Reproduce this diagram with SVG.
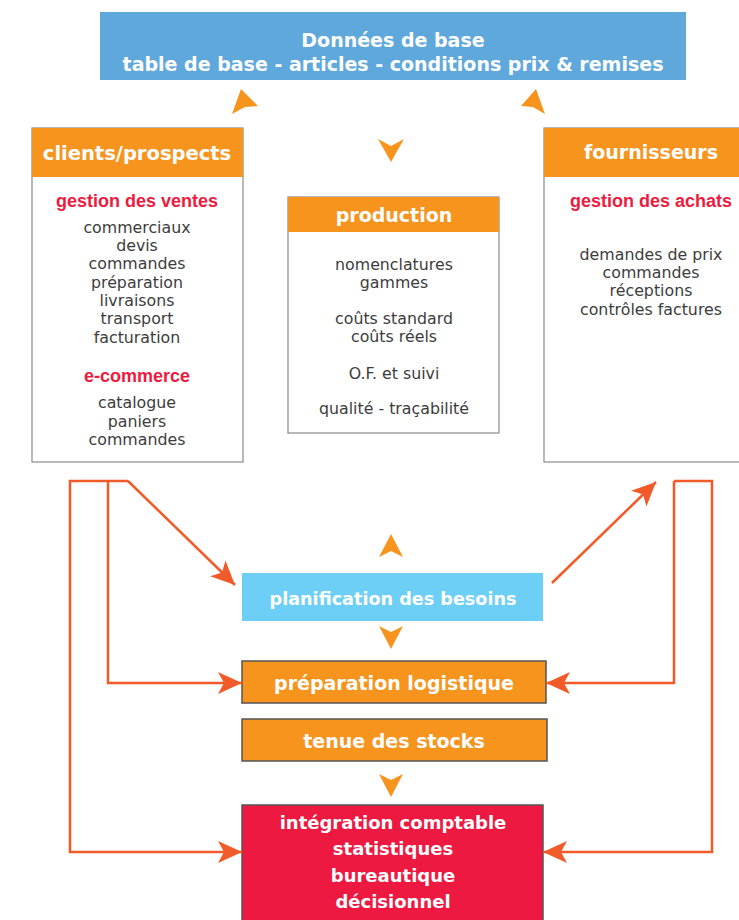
<svg xmlns="http://www.w3.org/2000/svg" width="739" height="920" viewBox="0 0 739 920">
<style>
.hdr{font-family:"DejaVu Sans",Verdana,sans-serif;font-weight:bold;fill:#ffffff;text-anchor:middle}
.red{font-family:"Liberation Sans",Arial,sans-serif;font-weight:bold;font-size:18px;fill:#ED1C3F;text-anchor:middle}
.body{font-family:"DejaVu Sans",Verdana,sans-serif;font-size:15.8px;fill:#3c3c3c;text-anchor:middle}
.panel{fill:#ffffff;stroke:#8a8a8a;stroke-width:1.2}
.orange{fill:#F7941D}
.dk{stroke:#555555;stroke-width:1.5}
.conn{fill:none;stroke:#F15A29;stroke-width:2.5}
.tri{fill:#F7941D}
</style>
<defs>
<marker id="ah" markerUnits="userSpaceOnUse" markerWidth="26" markerHeight="24" refX="24" refY="11" orient="auto">
<path d="M0,0 L24,11 L0,22 L6,11 Z" fill="#F15A29"/>
</marker>
</defs>

<g id="donnees">
<rect x="100" y="12" width="586" height="68" fill="#5FA8DC"/>
<text class="hdr" x="393" y="47" font-size="19">Données de base</text>
<text class="hdr" x="393" y="71" font-size="19">table de base - articles - conditions prix &amp; remises</text>
</g>

<g id="clients">
<rect class="panel" x="32" y="128" width="211" height="334"/>
<rect class="orange" x="32" y="128" width="211" height="49"/>
<text class="hdr" x="137" y="160" font-size="19.5">clients/prospects</text>
<text class="red" x="137" y="207">gestion des ventes</text>
<text class="body" x="137" y="233">commerciaux</text>
<text class="body" x="137" y="251">devis</text>
<text class="body" x="137" y="269">commandes</text>
<text class="body" x="137" y="288">préparation</text>
<text class="body" x="137" y="306">livraisons</text>
<text class="body" x="137" y="324">transport</text>
<text class="body" x="137" y="343">facturation</text>
<text class="red" x="137" y="382">e-commerce</text>
<text class="body" x="137" y="408">catalogue</text>
<text class="body" x="137" y="427">paniers</text>
<text class="body" x="137" y="445">commandes</text>
</g>

<g id="production">
<rect class="panel" x="288" y="197" width="211" height="236"/>
<rect class="orange" x="288" y="197" width="211" height="35"/>
<text class="hdr" x="394" y="222" font-size="19">production</text>
<text class="body" x="394" y="270">nomenclatures</text>
<text class="body" x="394" y="288">gammes</text>
<text class="body" x="394" y="324">coûts standard</text>
<text class="body" x="394" y="342">coûts réels</text>
<text class="body" x="394" y="379">O.F. et suivi</text>
<text class="body" x="394" y="414">qualité - traçabilité</text>
</g>

<g id="fournisseurs">
<rect class="panel" x="544" y="128" width="205" height="334"/>
<rect class="orange" x="544" y="128" width="205" height="49"/>
<text class="hdr" x="651" y="159" font-size="19">fournisseurs</text>
<text class="red" x="651" y="207">gestion des achats</text>
<text class="body" x="651" y="260">demandes de prix</text>
<text class="body" x="651" y="278">commandes</text>
<text class="body" x="651" y="296">réceptions</text>
<text class="body" x="651" y="315">contrôles factures</text>
</g>

<g id="planification">
<rect x="242" y="573" width="301" height="48" fill="#6DCFF6"/>
<text class="hdr" x="393" y="605" font-size="17.6">planification des besoins</text>
</g>

<g id="preparation">
<rect class="orange dk" x="242" y="661" width="304" height="42"/>
<text class="hdr" x="394" y="690" font-size="19">préparation logistique</text>
</g>

<g id="stocks">
<rect class="orange dk" x="242" y="719" width="305" height="42"/>
<text class="hdr" x="394" y="748" font-size="19">tenue des stocks</text>
</g>

<g id="integration">
<rect class="dk" x="242" y="805" width="301" height="120" fill="#ED1941"/>
<text class="hdr" x="393" y="829" font-size="18">intégration comptable</text>
<text class="hdr" x="393" y="855" font-size="18">statistiques</text>
<text class="hdr" x="393" y="882" font-size="18">bureautique</text>
<text class="hdr" x="393" y="908" font-size="18">décisionnel</text>
</g>

<g id="flow-arrows">
<polygon class="tri" points="241,89 258,106 245,107 232,114"/>
<polygon class="tri" points="536,89 545,114 533,107 521,106"/>
<polygon class="tri" points="378,139 391,146 404,139 391,162"/>
<polygon class="tri" points="391,534 403,557 391,551 379,557"/>
<polygon class="tri" points="379,626 391,632 403,626 391,649"/>
<polygon class="tri" points="379,774 391,780 403,774 391,797"/>
</g>

<g id="connectors">
<path class="conn" d="M128,481 L70,481 L70,852 L242,852" marker-end="url(#ah)"/>
<path class="conn" d="M128,481 L235,585" marker-end="url(#ah)"/>
<path class="conn" d="M108,481 L108,683 L242,683" marker-end="url(#ah)"/>
<path class="conn" d="M674,481 L712,481 L712,852 L543,852" marker-end="url(#ah)"/>
<path class="conn" d="M674,481 L674,683 L546,683" marker-end="url(#ah)"/>
<path class="conn" d="M552,583 L656,482" marker-end="url(#ah)"/>
</g>
</svg>
